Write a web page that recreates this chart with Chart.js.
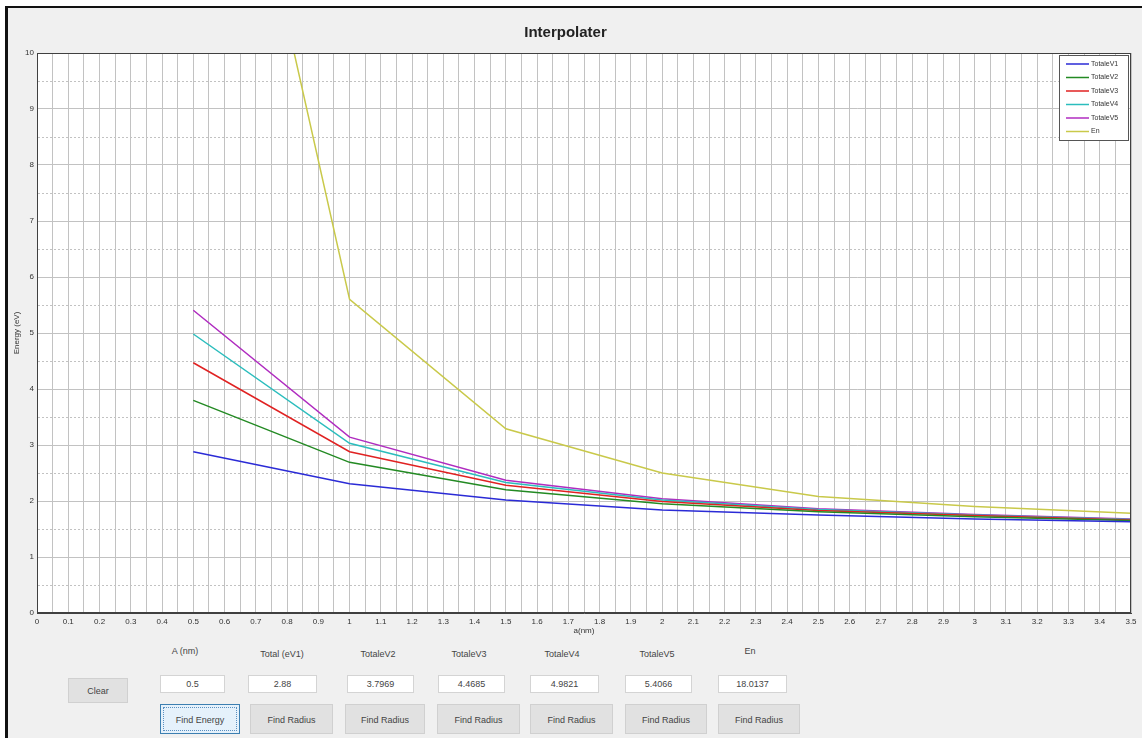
<!DOCTYPE html>
<html>
<head>
<meta charset="utf-8">
<script src="https://cdn.jsdelivr.net/npm/chart.js@4.4.0/dist/chart.umd.min.js"></script>
<style>
body { margin:0; background:#fff; width:1142px; height:738px; overflow:hidden; font-family:'Liberation Sans', Arial, sans-serif; }
#fig { position:absolute; left:5px; top:6px; width:1134px; height:732px; background:#f0f0f0; border-left:3px solid #111; border-top:2px solid #111; }
#plot { position:absolute; left:0; top:0; }
.lbl { position:absolute; width:90px; font-size:9px; color:#444; text-align:center; }
.box { position:absolute; height:16px; background:#fff; border:1px solid #d4d4d4; font-size:9px; color:#444; text-align:center; line-height:16px; }
.btn { position:absolute; height:30px; background:#e1e1e1; border:1px solid #d0d0d0; font-size:9px; color:#444; text-align:center; line-height:30px; box-sizing:border-box; }
.btn.active { background:#e5f1fb; border:1px solid #3c7fb1; outline:1px dotted #5a8fc0; outline-offset:-4px; }
</style>
</head>
<body>
<div id="fig"></div>
<canvas id="plot" width="1142" height="645"></canvas>
<div id="controls"></div>
<script>
// radius a (nm) and the energies computed at each radius
var aNm = [0.5, 1, 1.5, 2, 2.5, 3, 3.5];
var totalV1 = [2.88, 2.31, 2.02, 1.84, 1.75, 1.68, 1.63];
var totalV2 = [3.7969, 2.69, 2.2, 1.95, 1.81, 1.72, 1.65];
var totalV3 = [4.4685, 2.88, 2.28, 1.99, 1.83, 1.74, 1.66];
var totalV4 = [4.9821, 3.03, 2.33, 2.02, 1.85, 1.75, 1.67];
var totalV5 = [5.4066, 3.14, 2.37, 2.04, 1.86, 1.76, 1.68];
var energyEn = [18.0137, 5.6, 3.29, 2.5, 2.08, 1.9, 1.78];

var seriesNames = ['TotaleV1', 'TotaleV2', 'TotaleV3', 'TotaleV4', 'TotaleV5', 'En'];
var seriesData = [totalV1, totalV2, totalV3, totalV4, totalV5, energyEn];
var seriesColors = ['#2b2bd6', '#238a23', '#e02222', '#2bbdbd', '#b02cc0', '#c9c94a'];

var fieldLabels = ['A (nm)', 'Total (eV1)', 'TotaleV2', 'TotaleV3', 'TotaleV4', 'TotaleV5', 'En'];

function pts(ys) {
	var out = [];
	for (var i in ys) {
		out.push({x: aNm[i], y: ys[i]});
	}
	return out;
}

var datasets = [];
for (var i in seriesNames) {
	datasets.push({
		label: seriesNames[i],
		data: pts(seriesData[i]),
		borderColor: seriesColors[i],
		borderWidth: 1.5,
		pointRadius: 0,
		tension: 0,
		fill: false
	});
}

// white axes background
var plotBg = {
	id: 'plotBg',
	beforeDraw: function(chart) {
		var a = chart.chartArea, ctx = chart.ctx;
		ctx.save();
		ctx.fillStyle = '#fff';
		ctx.fillRect(a.left, a.top, a.right - a.left, a.bottom - a.top);
		ctx.restore();
	},
	afterDatasetsDraw: function(chart) {
		var a = chart.chartArea, ctx = chart.ctx;
		ctx.save();
		ctx.strokeStyle = '#404040';
		ctx.lineWidth = 1;
		ctx.strokeRect(a.left + 0.5, a.top + 0.5, a.right - a.left - 1, a.bottom - a.top - 1);
		ctx.restore();
	}
};

// legend box inside the top right corner of the axes
var insetLegend = {
	id: 'insetLegend',
	afterDraw: function(chart) {
		var a = chart.chartArea, ctx = chart.ctx;
		var rowH = 13.5, w = 69;
		var x0 = a.right - w - 3, y0 = a.top + 2;
		var h = chart.data.datasets.length * rowH + 4;
		ctx.save();
		ctx.fillStyle = '#fff';
		ctx.fillRect(x0, y0, w, h);
		ctx.strokeStyle = '#555';
		ctx.lineWidth = 1;
		ctx.strokeRect(x0 + 0.5, y0 + 0.5, w, h);
		ctx.font = '7px "Liberation Sans"';
		ctx.textBaseline = 'middle';
		chart.data.datasets.forEach(function(ds, i) {
			var y = y0 + 9 + i * rowH;
			ctx.strokeStyle = ds.borderColor;
			ctx.lineWidth = 1.5;
			ctx.beginPath();
			ctx.moveTo(x0 + 7, y);
			ctx.lineTo(x0 + 30, y);
			ctx.stroke();
			ctx.fillStyle = '#333';
			ctx.fillText(ds.label, x0 + 32, y);
		});
		ctx.restore();
	}
};

var tickFont = {family: 'Liberation Sans', size: 8};

new Chart(document.getElementById('plot'), {
	type: 'line',
	data: {datasets: datasets},
	plugins: [plotBg, insetLegend],
	options: {
		responsive: false,
		animation: false,
		layout: {padding: {left: 0, right: 11, top: 0, bottom: 0}},
		plugins: {
			legend: {display: false},
			tooltip: {enabled: false},
			title: {
				display: true,
				text: 'Interpolater',
				color: '#222',
				font: {family: 'Liberation Sans', size: 15, weight: 'bold'},
				padding: {top: 24, bottom: 11}
			}
		},
		scales: {
			x: {
				type: 'linear',
				min: 0,
				max: 3.5,
				afterFit: function(s) { s.height = 32; },
				ticks: {
					stepSize: 0.05,
					autoSkip: false,
					maxRotation: 0,
					padding: 4,
					color: '#333',
					font: tickFont,
					callback: function(v) {
						var t = Math.round(v * 20);
						return t % 2 === 0 ? String(t / 20) : '';
					}
				},
				grid: {color: '#c2c2c2', lineWidth: 1, drawTicks: false},
				border: {color: '#404040'},
				title: {
					display: true,
					text: 'a(nm)',
					color: '#333',
					font: tickFont,
					padding: {top: 0, bottom: 9}
				}
			},
			y: {
				min: 0,
				max: 10,
				afterFit: function(s) { s.width = 37; },
				ticks: {
					stepSize: 0.5,
					autoSkip: false,
					padding: 3,
					color: '#333',
					font: tickFont,
					callback: function(v) {
						return Number.isInteger(v) ? String(v) : '';
					}
				},
				grid: {color: '#c2c2c2', lineWidth: 1, drawTicks: false},
				border: {
					color: '#404040',
					dash: function(ctx) {
						if (ctx.tick && !Number.isInteger(ctx.tick.value)) return [2, 2];
						return [];
					}
				},
				title: {
					display: true,
					text: 'Energy (eV)',
					color: '#333',
					font: tickFont,
					padding: {top: 12, bottom: 0}
				}
			}
		}
	}
});

// input panel under the axes
var labelCenters = [185, 282, 378, 469, 562, 657, 750];
var boxLefts = [160, 248, 347, 438, 530, 625, 718];
var boxWidths = [63, 67, 65, 65, 67, 65, 67];
var btnLefts = [160, 250, 345, 437, 530, 625, 718];
var btnWidths = [80, 83, 80, 83, 83, 82, 82];
var fieldValues = [aNm[0]];
for (var k in seriesData) fieldValues.push(seriesData[k][0]);

var html = '<div class="btn" style="left:68px;top:678px;width:60px;height:25px;line-height:25px;">Clear</div>';
for (var j = 0; j < fieldLabels.length; j++) {
	html += '<div class="lbl" style="left:' + (labelCenters[j] - 45) + 'px;top:' + (j === 0 || j === 6 ? 646 : 649) + 'px;">' + fieldLabels[j] + '</div>';
	html += '<div class="box" style="left:' + boxLefts[j] + 'px;top:675px;width:' + boxWidths[j] + 'px;">' + fieldValues[j] + '</div>';
	html += '<div class="btn' + (j === 0 ? ' active' : '') + '" style="left:' + btnLefts[j] + 'px;top:704px;width:' + btnWidths[j] + 'px;">' + (j === 0 ? 'Find Energy' : 'Find Radius') + '</div>';
}
document.getElementById('controls').innerHTML = html;
</script>
</body>
</html>
